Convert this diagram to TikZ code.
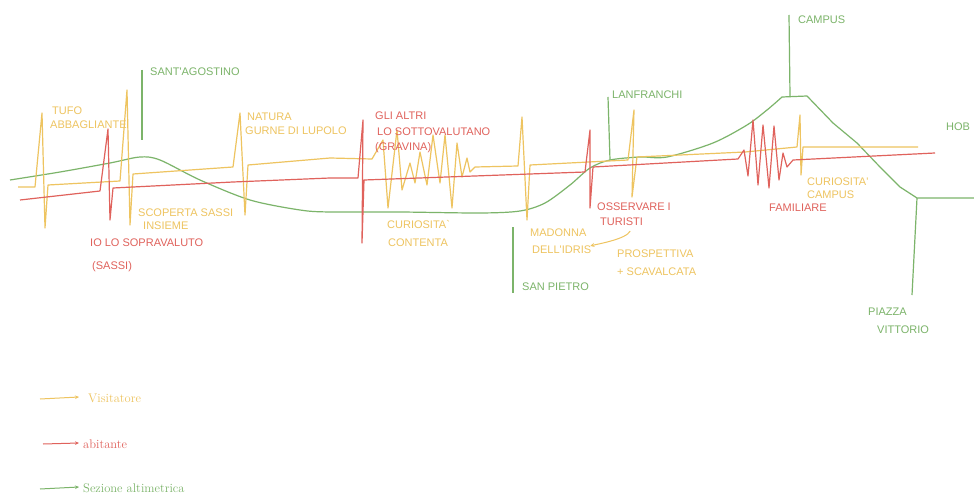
\documentclass[tikz,border=0pt]{standalone}
\usepackage{fontspec}
\newfontfamily\hand{Liberation Sans}
\usetikzlibrary{arrows.meta}
\definecolor{vis}{RGB}{238,196,96}
\definecolor{abi}{RGB}{224,98,92}
\definecolor{alt}{RGB}{124,180,106}
\tikzset{
  visline/.style={draw=vis, line width=1.2pt, line join=round},
  abiline/.style={draw=abi, line width=1.2pt, line join=round},
  altline/.style={draw=alt, line width=1.2pt, line join=round},
  htxt/.style={anchor=west, inner sep=0pt, font=\hand\fontsize{11}{13}\selectfont},
  vtxt/.style={htxt, text=vis},
  atxt/.style={htxt, text=abi},
  gtxt/.style={htxt, text=alt},
  legtxt/.style={anchor=west, inner sep=0pt, font=\fontsize{12.5}{14}\selectfont},
  legarrow/.style={line width=1pt, -{Stealth[length=4pt,width=3.5pt]}}
}
\begin{document}
\begin{tikzpicture}[x=1pt,y=-1pt]
\useasboundingbox (0,0) rectangle (974,500);
\fill[white] (0,0) rectangle (974,500);

% ---------- Sezione altimetrica (green) ----------
\draw[altline] plot[smooth, tension=0.5] coordinates {(10,180) (60,172) (110,163) (140,157) (160,160) (200,180) (250,200) (300,210) (330,212) (400,212) (480,213) (520,211) (545,203) (570,185) (590,168) (610,160) (640,157) (667,157) (713,143) (747,125) (767,110) (782,97)}
  -- (807,96) -- (833,123) -- (857,143) -- (880,167) -- (900,187) -- (917,198) -- (974,198);

% green markers
\node[gtxt] (santag) at (150,72) {SANT'AGOSTINO};
\draw[altline] (142,70) -- (142,140);
\node[gtxt] (lanfr) at (612,95) {LANFRANCHI};
\draw[altline] (608,97) -- (610,160);
\node[gtxt] (campus) at (798,20) {CAMPUS};
\draw[altline] (789,15) -- (790,96);
\node[gtxt] (spietro) at (522,287) {SAN PIETRO};
\draw[altline] (513,227) -- (513,293);
\node[gtxt] (piazza) at (868,312) {PIAZZA};
\node[gtxt] (vittorio) at (877,330) {VITTORIO};
\draw[altline] (917,198) -- (912,295);
\node[gtxt] (hob) at (946,127) {HOB};

% ---------- Visitatore (yellow) ----------
\draw[visline] (18,187) -- (35,187) -- (42,113) -- (45,228) -- (48,185) -- (120,181)
  -- (127,90) -- (130,225) -- (133,174) -- (233,167) -- (240,113) -- (245,215) -- (248,165)
  -- (330,158) -- (372,159)
  -- (383,140) -- (388,208) -- (397,130) -- (402,190) -- (410,163) -- (415,183) -- (420,152)
  -- (427,185) -- (433,135) -- (440,183) -- (445,135) -- (452,208) -- (457,143) -- (462,177)
  -- (467,158) -- (470,172) -- (475,167) -- (518,166)
  -- (522,117) -- (527,220) -- (530,165) -- (628,160)
  -- (634,110) -- (632,197) -- (637,157) -- (745,152) -- (797,147)
  -- (800,115) -- (801,175) -- (803,147) -- (918,147);

\node[vtxt] (tufo) at (52,111) {TUFO};
\node[vtxt] (abbagl) at (50,125) {ABBAGLIANTE};
\node[vtxt] (natura) at (247,117) {NATURA};
\node[vtxt] (gurne) at (245,131) {GURNE DI LUPOLO};
\node[vtxt] (scoperta) at (138,213) {SCOPERTA SASSI};
\node[vtxt] (insieme) at (143,226) {INSIEME};
\node[vtxt] (curios) at (387,225) {CURIOSITA`};
\node[vtxt] (contenta) at (388,243) {CONTENTA};
\node[vtxt] (madonna) at (530,233) {MADONNA};
\node[vtxt] (dellidris) at (532,250) {DELL'IDRIS};
\node[vtxt] (prosp) at (617,254) {PROSPETTIVA};
\node[vtxt] (scaval) at (617,272) {+ SCAVALCATA};
\node[vtxt] (curcamp) at (807,182) {CURIOSITA'};
\node[vtxt] (campus2) at (807,195) {CAMPUS};

% ---------- abitante (red) ----------
\draw[abiline] (20,200) -- (100,191) -- (108,129) -- (110,220) -- (113,188) -- (233,182)
  -- (330,178) -- (358,178) -- (363,120) -- (362,243) -- (364,180) -- (585,172)
  -- (590,130) -- (590,208) -- (593,167) -- (738,159)
  -- (744,150) -- (748,176) -- (753,120) -- (758,185) -- (763,125) -- (769,188)
  -- (774,126) -- (779,180) -- (783,153) -- (787,167) -- (793,160) -- (935,153);

\node[atxt] (iolo) at (90,243) {IO LO SOPRAVALUTO};
\node[atxt] (sassi) at (92,267) {(SASSI)};
\node[atxt] (gli) at (375,116) {GLI ALTRI};
\node[atxt] (sotto) at (377,132) {LO SOTTOVALUTANO};
\node[atxt] (gravina) at (375,148) {(GRAVINA)};
\node[atxt] (osserv) at (597,207) {OSSERVARE I};
\node[atxt] (turisti) at (600,222) {TURISTI};
\node[atxt] (famil) at (769,208) {FAMILIARE};

% small yellow arrow
\coordinate (arrS) at ([xshift=-13pt,yshift=-5pt]turisti.south east);
\coordinate (arrE) at ([xshift=-1pt]dellidris.north east);
\draw[draw=vis, line width=1pt, -{Stealth[length=4pt,width=4pt]}] (arrS) .. controls +(-4,8) and +(8,-2) .. (arrE);

% ---------- legend ----------
\coordinate (l1a) at (40,399); \coordinate (l1b) at (79,397);
\coordinate (l2a) at (43,444); \coordinate (l2b) at (79,443);
\coordinate (l3a) at (40,489); \coordinate (l3b) at (79,487);
\draw[legarrow, vis] (l1a) -- (l1b);
\draw[legarrow, abi] (l2a) -- (l2b);
\draw[legarrow, alt] (l3a) -- (l3b);
\node[legtxt, text=vis] (lvis) at (88,398) {Visitatore};
\node[legtxt, text=abi] (labi) at (83,444) {abitante};
\node[legtxt, text=alt] (lalt) at (83,488) {Sezione altimetrica};
\end{tikzpicture}
\end{document}
